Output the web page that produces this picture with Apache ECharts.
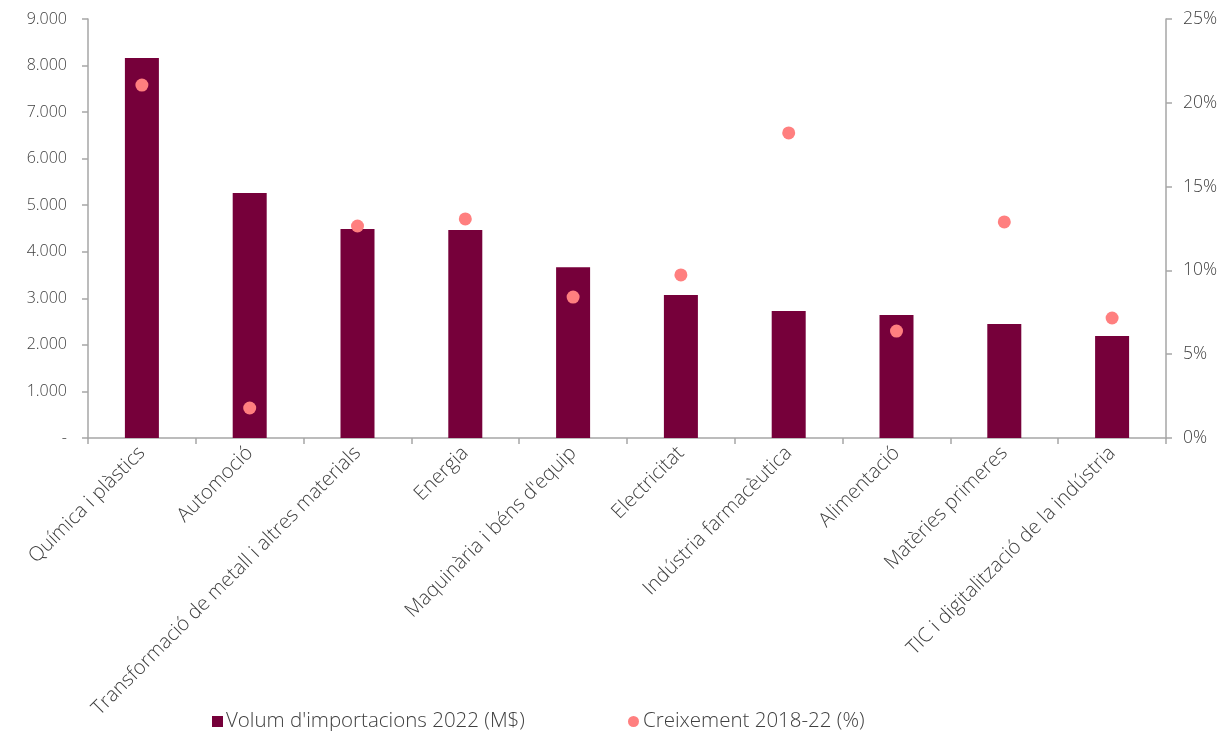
<!DOCTYPE html>
<html><head><meta charset="utf-8">
<script src="https://cdn.jsdelivr.net/npm/echarts@6/dist/echarts.min.js"></script>
<style>html,body{margin:0;padding:0;background:#fff}#c{width:1225px;height:731px}</style>
</head><body><div id="c"></div>
<script>
const categories = ["Química i plàstics","Automoció","Transformació de metall i altres materials","Energia","Maquinària i béns d'equip","Electricitat","Indústria farmacèutica","Alimentació","Matèries primeres","TIC i digitalització de la indústria"];
const volum = [8160, 5260, 4490, 4470, 3670, 3070, 2730, 2640, 2450, 2190];
const creixement = [21.06, 1.79, 12.65, 13.07, 8.41, 9.73, 18.2, 6.38, 12.89, 7.16];
const leftTicks = [0, 9000, 1000];
const rightTicks = [0, 25, 5];

const font = "'Open Sans', 'Liberation Sans', Arial, sans-serif";
const txt = '#404040';
const axisCol = '#a6a6a6';
const chart = echarts.init(document.getElementById('c'));
chart.setOption({
  animation: false,
  textStyle: {fontFamily: font},
  grid: {left: 88, right: 59, top: 19, bottom: 293, containLabel: false},
  legend: [
    {data: [{name: "Volum d'importacions 2022 (M$)", icon: 'rect'}], left: 207, top: 706, itemWidth: 11, itemHeight: 11, itemGap: 4,
     textStyle: {fontSize: 20.5, color: txt, fontFamily: font, fontWeight: 300, padding: [0,0,0,-2]}},
    {data: [{name: 'Creixement 2018-22 (%)', icon: 'circle'}], left: 623, top: 706, itemWidth: 11, itemHeight: 11,
     textStyle: {fontSize: 20.5, color: txt, fontFamily: font, fontWeight: 300, padding: [0,0,0,-1]}}
  ],
  xAxis: {
    type: 'category', data: categories,
    axisLine: {lineStyle: {color: axisCol, width: 1.5}},
    axisTick: {show: true, alignWithLabel: false, length: 6, lineStyle: {color: axisCol, width: 1.5}},
    axisLabel: {rotate: 45, fontSize: 20, color: txt, interval: 0, margin: 12, fontFamily: font, fontWeight: 300}
  },
  yAxis: [
    {type: 'value', min: leftTicks[0], max: leftTicks[1], interval: leftTicks[2], position: 'left',
     splitLine: {show: false},
     axisLine: {show: true, lineStyle: {color: axisCol, width: 1.5}},
     axisTick: {show: true, length: 6, lineStyle: {color: axisCol, width: 1.5}},
     axisLabel: {fontSize: 16, color: txt, margin: 21, fontFamily: font, fontWeight: 300,
       formatter: v => v === 0 ? '-' : (v/1000).toFixed(0) + '.000'}},
    {type: 'value', min: rightTicks[0], max: rightTicks[1], interval: rightTicks[2], position: 'right',
     splitLine: {show: false},
     axisLine: {show: true, lineStyle: {color: axisCol, width: 1.5}},
     axisTick: {show: true, length: 6, lineStyle: {color: axisCol, width: 1.5}},
     axisLabel: {fontSize: 17.5, color: txt, margin: 17, fontFamily: font, fontWeight: 300, formatter: v => v + '%'}}
  ],
  series: [
    {name: "Volum d'importacions 2022 (M$)", type: 'bar', data: volum, barWidth: 34, yAxisIndex: 0,
     itemStyle: {color: '#76003A'}},
    {name: 'Creixement 2018-22 (%)', type: 'scatter', data: creixement, yAxisIndex: 1, symbolSize: 13,
     itemStyle: {color: '#FF7F7F', opacity: 1}}
  ]
});
</script></body></html>
